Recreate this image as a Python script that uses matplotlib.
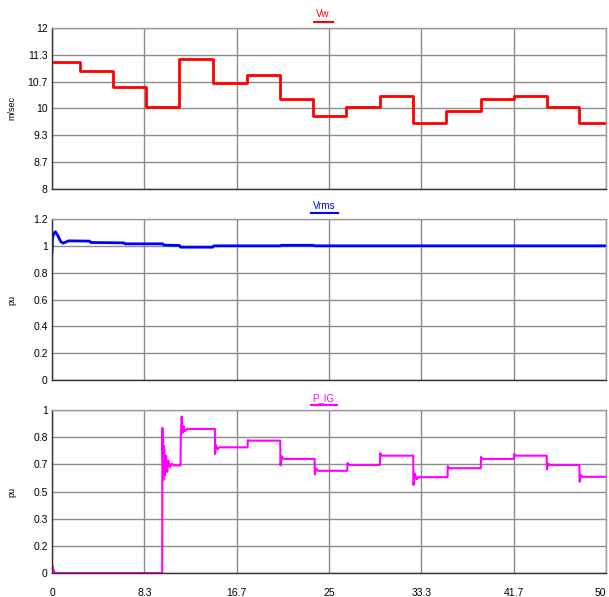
import matplotlib
matplotlib.use("Agg")
import matplotlib.pyplot as plt
import numpy as np
from matplotlib.lines import Line2D

plt.rcParams['font.family'] = ['Liberation Sans', 'DejaVu Sans']

# ---------------- data ----------------
x_ticks_labels = ["0", "8.3", "16.7", "25", "33.3", "41.7", "50"]

# Wind speed (step changes)
vw_edges = [0, 2.55, 5.5, 8.5, 11.5, 14.55, 17.6, 20.6, 23.6, 26.5, 29.6, 32.6, 35.6, 38.7, 41.7, 44.65, 47.6, 50]
vw_levels = [11.15, 10.94, 10.53, 10.03, 11.24, 10.645, 10.82, 10.24, 9.82, 10.03, 10.32, 9.64, 9.93, 10.24, 10.32, 10.03, 9.64]
vw_ytick_labels = ["8", "8.7", "9.3", "10", "10.7", "11.3", "12"]

# Vrms
vrms_t = [0.0, 0.05, 0.15, 0.3, 0.5, 0.8, 1.0, 1.3, 1.5, 3.4, 3.5, 6.5, 6.6, 10.0, 10.1,
          11.5, 11.6, 14.5, 14.6, 20.6, 20.7, 23.6, 23.7, 50.0]
vrms_v = [0.95, 1.06, 1.09, 1.105, 1.08, 1.03, 1.02, 1.03, 1.037, 1.035, 1.025, 1.022, 1.015, 1.015, 1.005,
          1.003, 0.99, 0.99, 1.0, 1.0, 1.004, 1.004, 1.0, 1.0]
vrms_ytick_labels = ["0", "0.2", "0.4", "0.6", "0.8", "1", "1.2"]

# Generator power P_IG
pig_t = [0.0, 0.05, 0.15, 0.3, 9.95, 9.96, 10.05, 10.12, 10.2, 10.3, 10.4, 10.5, 10.65, 10.8, 11.0,
         11.6, 11.62, 11.7, 11.8, 11.9, 12.0, 12.2, 14.7, 14.72, 14.8, 14.95, 15.1,
         17.65, 17.67, 17.8, 20.6, 20.62, 20.75, 20.9,
         23.7, 23.72, 23.85, 24.0, 26.65, 26.67, 26.8,
         29.6, 29.62, 29.75, 32.6, 32.62, 32.75, 32.9, 33.1,
         35.7, 35.72, 35.85, 38.7, 38.72, 38.85, 41.7, 41.72, 41.85,
         44.65, 44.67, 44.8, 44.95, 47.6, 47.62, 47.75, 47.9, 50.0]
pig_v = [0.0, 0.04, 0.015, 0.0, 0.0, 0.89, 0.57, 0.78, 0.6, 0.72, 0.62, 0.69, 0.65, 0.67, 0.66,
         0.66, 0.82, 0.96, 0.86, 0.9, 0.87, 0.884, 0.884, 0.73, 0.785, 0.76, 0.771,
         0.771, 0.815, 0.812, 0.812, 0.66, 0.715, 0.70,
         0.70, 0.605, 0.64, 0.627, 0.627, 0.675, 0.663,
         0.663, 0.735, 0.72, 0.72, 0.54, 0.61, 0.575, 0.588,
         0.588, 0.655, 0.643, 0.643, 0.712, 0.70, 0.70, 0.73, 0.72,
         0.72, 0.635, 0.67, 0.663, 0.663, 0.56, 0.6, 0.59, 0.59]
pig_ytick_labels = ["0", "0.2", "0.3", "0.5", "0.7", "0.8", "1"]

# ---------------- figure ----------------
W, H = 609, 597
fig = plt.figure(figsize=(W / 100, H / 100), dpi=100)

def px_axes(left, top, right, bottom):
    return fig.add_axes([left / W, 1 - bottom / H, (right - left) / W, (bottom - top) / H])

grid_c = '#8c8c8c'
fs = 7.5

def style(ax, ylim, ylabels, xlabels=False):
    ax.set_xlim(0, 50)
    ax.set_ylim(*ylim)
    ax.set_xticks(np.linspace(0, 50, 7))
    ax.set_yticks(np.linspace(ylim[0], ylim[1], 7))
    ax.set_yticklabels(ylabels, fontsize=fs)
    if xlabels:
        ax.set_xticklabels(x_ticks_labels, fontsize=fs)
        ax.get_xticklabels()[-1].set_horizontalalignment('right')
    else:
        ax.set_xticklabels([])
    ax.tick_params(axis='both', length=0)
    ax.tick_params(axis='y', pad=3)
    ax.tick_params(axis='x', pad=11)
    ax.grid(True, color=grid_c, lw=1.0)
    ax.set_axisbelow(True)
    for s in ['top', 'right']:
        ax.spines[s].set_color('#9a9a9a')
        ax.spines[s].set_linewidth(1.0)
    for s in ['left', 'bottom']:
        ax.spines[s].set_color('#303030')
        ax.spines[s].set_linewidth(1.0)

def title(text, color, xc, yc, ul_y, ul_x0, ul_x1):
    fig.text(xc / W, 1 - yc / H, text, color=color, fontsize=7, ha='center', va='center')
    fig.add_artist(Line2D([ul_x0 / W, ul_x1 / W], [1 - ul_y / H, 1 - ul_y / H], color=color, lw=1.5))

# Top: Vw
ax1 = px_axes(52, 28, 606, 189)
ax1.step(vw_edges, vw_levels + [vw_levels[-1]], where='post', color='#ff0000', lw=2.0)
style(ax1, (8, 12), vw_ytick_labels)
title("Vw", '#ff0000', 323, 14, 21.5, 314, 333)
fig.text(12 / W, 1 - 108 / H, "m/sec", rotation=90, fontsize=6.5, ha='center', va='center')

# Middle: Vrms
ax2 = px_axes(52, 219, 606, 380)
ax2.plot(vrms_t, vrms_v, color='#0000ff', lw=2.0)
style(ax2, (0, 1.2), vrms_ytick_labels)
title("Vrms", '#0000ff', 324, 206, 213, 311, 338)
fig.text(12 / W, 1 - 300 / H, "pu", rotation=90, fontsize=6.5, ha='center', va='center')

# Bottom: P_IG
ax3 = px_axes(52, 410, 606, 573)
ax3.plot(pig_t, pig_v, color='#ff00ff', lw=1.5)
style(ax3, (0, 1), pig_ytick_labels, xlabels=True)
title("P_IG", '#ff00ff', 323, 398, 405, 311, 337)
fig.text(12 / W, 1 - 492 / H, "pu", rotation=90, fontsize=6.5, ha='center', va='center')

fig.savefig("out.png", dpi=100)
